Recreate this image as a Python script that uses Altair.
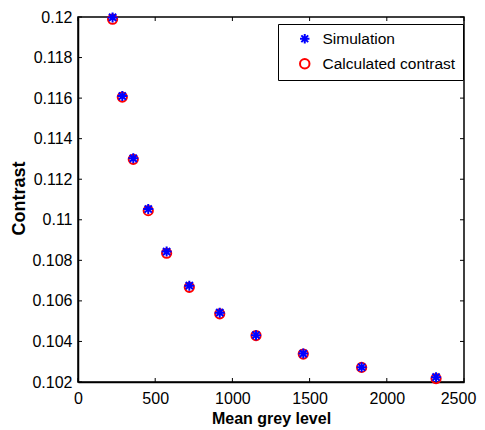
import altair as alt
import pandas as pd

# ---- data ----
mean_grey = [224, 287, 358, 455, 574, 721, 918, 1153, 1459, 1837, 2319]
simulation = [0.11998, 0.11610, 0.11303, 0.11053, 0.10843, 0.10675,
              0.10542, 0.10431, 0.10340, 0.10273, 0.10224]
calculated = [0.11989, 0.11605, 0.11298, 0.11045, 0.10835, 0.10667,
              0.10536, 0.10429, 0.10338, 0.10272, 0.10217]
x_ticks = [0, 500, 1000, 1500, 2000, 2500]
y_ticks = [0.102, 0.104, 0.106, 0.108, 0.11, 0.112, 0.114, 0.116, 0.118, 0.12]
series_names = ["Simulation", "Calculated contrast"]

W, H = 386, 365
FONT = "Liberation Sans, Arial, sans-serif"
TL = 4  # inner tick length

sim_df = pd.DataFrame({"x": mean_grey, "y": simulation, "series": series_names[0]})
calc_df = pd.DataFrame({"x": mean_grey, "y": calculated, "series": series_names[1]})
xt_df = pd.DataFrame({"x": x_ticks})
yt_df = pd.DataFrame({"y": y_ticks})

asterisk = "M-1,0L1,0M0,-1L0,1M-0.72,-0.72L0.72,0.72M-0.72,0.72L0.72,-0.72"

x_axis = alt.Axis(values=x_ticks, format="d", title="Mean grey level",
                  ticks=False, tickSize=0, grid=False, labelPadding=8,
                  labelFlush=False, labelOverlap=False, labelBound=False,
                  labelOffset={"condition": {"test": "datum.value >= 2500", "value": -6},
                               "value": 0},
                  labelFont=FONT, labelFontSize=16, labelColor="black",
                  titleFont=FONT, titleFontSize=16, titleFontWeight="bold",
                  titleColor="black", titleX=W / 2, titleY=41,
                  titleBaseline="alphabetic",
                  domainColor="black", domainWidth=1.5)
y_axis = alt.Axis(values=y_ticks, format="~g", title="Contrast",
                  ticks=False, tickSize=0, grid=False, labelPadding=6,
                  labelFlush=False, labelOverlap=False,
                  labelFont=FONT, labelFontSize=16, labelColor="black",
                  titleFont=FONT, titleFontSize=18, titleFontWeight="bold",
                  titleColor="black", titleAngle=270, titleX=-59, titleY=181,
                  titleBaseline="middle", titleAlign="center",
                  domainColor="black", domainWidth=1.5)

xs = alt.X("x:Q", scale=alt.Scale(domain=[0, 2500], nice=False, zero=False), axis=x_axis)
ys = alt.Y("y:Q", scale=alt.Scale(domain=[0.102, 0.12], nice=False, zero=False), axis=y_axis)

legend = alt.Legend(orient="none", legendX=200, legendY=7, title=None,
                    strokeColor="black", fillColor="white", padding=7,
                    symbolOffset=12, labelOffset=10, rowPadding=7,
                    labelFont=FONT, labelFontSize=15.5, labelColor="black",
                    symbolSize=90, symbolStrokeWidth=2, symbolOpacity=1,
                    cornerRadius=0)
color = alt.Color("series:N", scale=alt.Scale(domain=series_names, range=["blue", "red"]),
                  legend=legend)
shape = alt.Shape("series:N", scale=alt.Scale(domain=series_names, range=[asterisk, "circle"]),
                  legend=legend)

circles = alt.Chart(calc_df).mark_point(filled=False, size=85, strokeWidth=2,
                                        opacity=1, clip=False).encode(
    x=xs, y=ys, color=color, shape=shape)
stars = alt.Chart(sim_df).mark_point(filled=False, size=100, strokeWidth=2,
                                     opacity=1, clip=False).encode(
    x=xs, y=ys, color=color, shape=shape)

tick_style = dict(color="black", strokeWidth=1)
xt_bottom = alt.Chart(xt_df).mark_rule(**tick_style).encode(
    x=xs, y=alt.value(H - TL), y2=alt.value(H))
xt_top = alt.Chart(xt_df).mark_rule(**tick_style).encode(
    x=xs, y=alt.value(0), y2=alt.value(TL))
yt_left = alt.Chart(yt_df).mark_rule(**tick_style).encode(
    y=ys, x=alt.value(0), x2=alt.value(TL))
yt_right = alt.Chart(yt_df).mark_rule(**tick_style).encode(
    y=ys, x=alt.value(W - TL), x2=alt.value(W))

chart = alt.layer(xt_bottom, xt_top, yt_left, yt_right, circles, stars).properties(
    width=W, height=H,
    autosize=alt.AutoSizeParams(type="none"),
    padding={"left": 70, "top": 9, "right": 13, "bottom": 46},
    background="white",
).configure_view(stroke="black", strokeWidth=1.5)

chart.save("out.html", embed_options={"renderer": "svg", "actions": False})
